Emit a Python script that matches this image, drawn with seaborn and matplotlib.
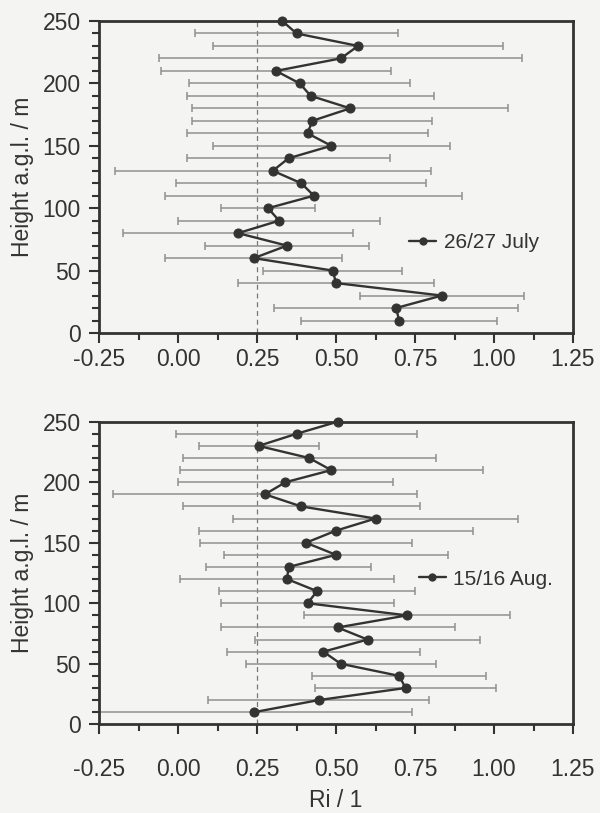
import numpy as np
import pandas as pd
import seaborn as sns
import matplotlib.pyplot as plt
from matplotlib.ticker import MultipleLocator

# heights (m a.g.l.), top to bottom
heights = [250, 240, 230, 220, 210, 200, 190, 180, 170, 160, 150, 140, 130,
           120, 110, 100, 90, 80, 70, 60, 50, 40, 30, 20, 10]

# 26/27 July: mean Ri and half width of the bar
ri_july = [0.33, 0.375, 0.57, 0.515, 0.31, 0.385, 0.42, 0.545, 0.425, 0.41,
           0.485, 0.35, 0.30, 0.39, 0.43, 0.285, 0.32, 0.19, 0.345, 0.24,
           0.49, 0.50, 0.835, 0.69, 0.70]
err_july = [np.nan, 0.32, 0.46, 0.575, 0.365, 0.35, 0.39, 0.50, 0.38, 0.38,
            0.375, 0.32, 0.50, 0.395, 0.47, 0.15, 0.32, 0.365, 0.26, 0.28,
            0.22, 0.31, 0.26, 0.385, 0.31]

# 15/16 Aug.
ri_aug = [0.505, 0.375, 0.255, 0.415, 0.485, 0.34, 0.275, 0.39, 0.625, 0.50,
          0.405, 0.50, 0.35, 0.345, 0.44, 0.41, 0.725, 0.505, 0.60, 0.46,
          0.515, 0.70, 0.72, 0.445, 0.24]
err_aug = [np.nan, 0.38, 0.19, 0.40, 0.48, 0.34, 0.48, 0.375, 0.45, 0.435,
           0.335, 0.355, 0.26, 0.34, 0.31, 0.275, 0.325, 0.37, 0.355, 0.305,
           0.30, 0.275, 0.285, 0.35, 0.50]

labels = ["26/27 July", "15/16 Aug."]
xticks = [-0.25, 0.0, 0.25, 0.5, 0.75, 1.0, 1.25]

sns.set_theme(style="ticks")
plt.rcParams['font.family'] = ['Liberation Sans', 'DejaVu Sans']
ink = "#333333"
paper = "#f4f4f2"
plt.rcParams.update({
    'text.color': ink, 'axes.labelcolor': ink, 'axes.edgecolor': ink,
    'xtick.color': ink, 'ytick.color': ink,
})
fs = 16.5

fig = plt.figure(figsize=(6, 8.13), dpi=100, facecolor=paper)
ax_top = fig.add_axes([0.165, 0.5904, 0.79, 0.3838])
ax_bot = fig.add_axes([0.165, 0.1091, 0.79, 0.3722])

setup = [(ax_top, ri_july, err_july, labels[0], (0.615, 0.29), 4),
         (ax_bot, ri_aug, err_aug, labels[1], (0.635, 0.48), 17)]

for ax, ri, err, lab, anchor, xpad in setup:
    df = pd.DataFrame({'height': heights, 'ri': ri, 'err': err})
    ax.set_facecolor(paper)
    ax.axvline(0.25, color="#777777", ls=(0, (4, 3)), lw=0.9, zorder=1)
    ax.errorbar(df['ri'], df['height'], xerr=df['err'], fmt='none',
                ecolor="#909090", elinewidth=1.1, capsize=3,
                capthick=1.1, zorder=2)
    sns.lineplot(data=df, x='ri', y='height', orient='y', sort=False,
                 ax=ax, color=ink, lw=1.7, marker='o', markersize=6.5,
                 markeredgecolor=ink, label=lab, zorder=3, clip_on=False)
    ax.set_xlim(-0.25, 1.25)
    ax.set_ylim(0, 250)
    ax.set_xticks(xticks)
    ax.set_xticklabels([f"{v:.2f}" for v in xticks])
    ax.xaxis.set_minor_locator(MultipleLocator(0.125))
    ax.yaxis.set_major_locator(MultipleLocator(50))
    ax.yaxis.set_minor_locator(MultipleLocator(10))
    ax.tick_params(which='major', length=7, width=1.5, labelsize=fs)
    ax.tick_params(which='minor', length=5, width=1.5)
    ax.tick_params(axis='x', which='major', pad=xpad)
    ax.tick_params(axis='y', which='major', pad=6)
    for s in ax.spines.values():
        s.set_linewidth(2)
        s.set_visible(True)
    ax.set_ylabel("Height a.g.l. / m", fontsize=fs, labelpad=6)
    ax.set_xlabel("")
    ax.legend(loc='center left', bbox_to_anchor=anchor,
              frameon=False, fontsize=15, handlelength=1.3, handletextpad=0.35,
              markerscale=0.8)

ax_bot.set_xlabel("Ri / 1", fontsize=fs, labelpad=6)

fig.savefig("out.png", dpi=100, facecolor=paper)
